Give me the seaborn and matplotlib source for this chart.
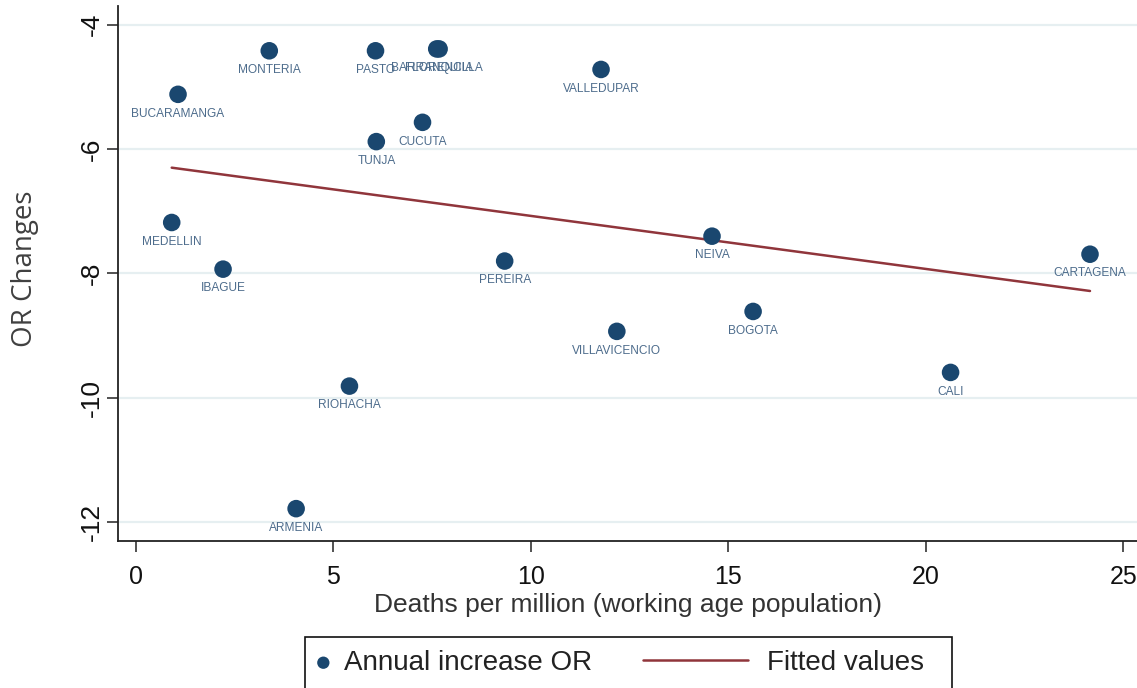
import matplotlib
matplotlib.use("Agg")
import matplotlib.pyplot as plt
from matplotlib.patches import Rectangle
import seaborn as sns
import pandas as pd

# City-level data: deaths per million (working age population) vs. OR change
cities = ["MONTERIA", "PASTO", "BARRANQUILLA", "FLORENCIA", "VALLEDUPAR",
          "BUCARAMANGA", "CUCUTA", "TUNJA", "MEDELLIN", "IBAGUE", "PEREIRA",
          "NEIVA", "CARTAGENA", "BOGOTA", "VILLAVICENCIO", "CALI",
          "RIOHACHA", "ARMENIA"]
deaths = [3.38, 6.07, 7.62, 7.68, 11.78,
          1.07, 7.26, 6.09, 0.91, 2.21, 9.34,
          14.59, 24.16, 15.63, 12.18, 20.63,
          5.41, 4.06]
or_change = [-4.42, -4.42, -4.39, -4.39, -4.72,
             -5.12, -5.57, -5.88, -7.18, -7.93, -7.80,
             -7.40, -7.69, -8.61, -8.93, -9.59,
             -9.81, -11.78]
x_ticks = [0, 5, 10, 15, 20, 25]
y_ticks = [-12, -10, -8, -6, -4]

df = pd.DataFrame({"deaths": deaths, "or_change": or_change, "city": cities})

sns.set_theme(style="white")
plt.rcParams["font.family"] = ["Liberation Sans", "DejaVu Sans"]
plt.rcParams["axes.unicode_minus"] = False

legend_size = 20
navy = "#1a476f"
maroon = "#90353b"

fig = plt.figure(figsize=(11.37, 6.88), dpi=100)
ax = fig.add_axes([118 / 1137, 1 - 541 / 688, 1 - 118 / 1137, (541 - 6) / 688])

# faint horizontal grid at the y ticks
for yv in y_ticks:
    ax.axhline(yv, color="#e6eff1", lw=1.6, zorder=0)

# linear fit over the observed range
sns.regplot(data=df, x="deaths", y="or_change", scatter=False, ci=None,
            color=maroon, line_kws={"lw": 1.8}, ax=ax)
fit_line = ax.lines[-1]
sns.scatterplot(data=df, x="deaths", y="or_change", s=160, color=navy,
                edgecolor="none", ax=ax, zorder=3, legend=False)
points = ax.collections[-1]

# city name under each marker
for name, xv, yv in zip(cities, deaths, or_change):
    ax.annotate(name, (xv, yv), xytext=(0, -9.5), textcoords="offset points",
                ha="center", va="top", fontsize=8.6, color="#4d6c8c")

ax.set_xlim(-0.45, 25.35)
ax.set_ylim(-12.3, -3.7)
ax.set_xticks(x_ticks)
ax.set_yticks(y_ticks)
ax.set_xticklabels([str(v) for v in x_ticks], fontsize=18, color="#111111")
ax.set_yticklabels([str(v) for v in y_ticks], fontsize=19, color="#111111",
                   rotation=90, va="center")
ax.tick_params(axis="both", which="both", length=8, width=1.2, color="#333333",
               direction="out", bottom=True, left=True)
ax.tick_params(axis="x", pad=9)
ax.tick_params(axis="y", pad=2)
for side in ("top", "right"):
    ax.spines[side].set_visible(False)
for side in ("left", "bottom"):
    ax.spines[side].set_color("#222222")
    ax.spines[side].set_linewidth(1.3)

ax.set_xlabel("Deaths per million (working age population)", fontsize=19,
              color="#333333", labelpad=3)
ax.set_ylabel("")
fig.text(25 / 1137, 1 - 269 / 688, "OR Changes", rotation=90, ha="center",
         va="center", fontsize=20, color="#404040", family=["Open Sans", "DejaVu Sans"])

# legend box below the plot
fig.patches.append(Rectangle((305 / 1137, -0.05), (952 - 305) / 1137,
                             (0.05 + 1 - 637 / 688), transform=fig.transFigure,
                             fill=False, edgecolor="#111111", lw=1.2))
leg1 = fig.legend([points], ["Annual increase OR"], loc="center left",
                  bbox_to_anchor=(315 / 1137, 1 - 663 / 688), frameon=False,
                  prop={"size": legend_size},
                  handlelength=0.6, handletextpad=0.45,
                  borderpad=0, borderaxespad=0, markerscale=0.7)
for t in leg1.get_texts():
    t.set_color("#222222")
leg2 = fig.legend([fit_line], ["Fitted values"], loc="center left",
                  bbox_to_anchor=(643 / 1137, 1 - 663 / 688), frameon=False,
                  prop={"size": legend_size},
                  handlelength=105 / (legend_size * 100 / 72), handletextpad=0.7,
                  borderpad=0, borderaxespad=0)
for t in leg2.get_texts():
    t.set_color("#222222")

fig.savefig("out.png", dpi=100)
